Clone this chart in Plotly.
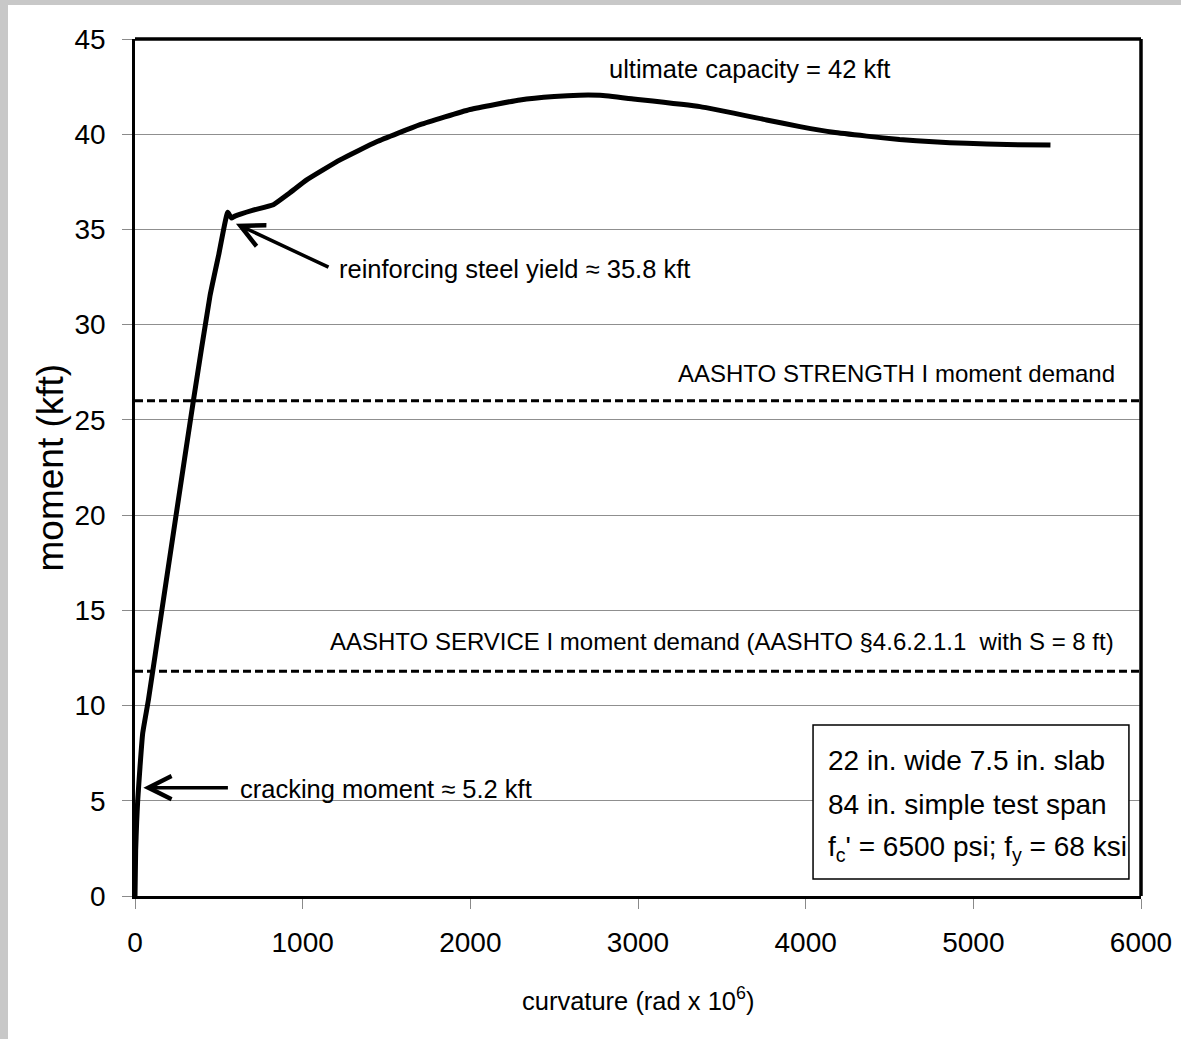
import plotly.graph_objects as go

# ---- data ----
curvature = [0, 4, 10, 16, 30, 46, 80, 160, 245, 348, 447, 500, 553, 575, 596, 700, 825,
             920, 1024, 1223, 1441, 1700, 1998, 2296, 2500, 2650, 2773, 2972, 3370, 3767,
             3966, 4165, 4364, 4560, 4760, 4960, 5200, 5460]
moment = [0, 2.4, 3.9, 5.0, 6.8, 8.55, 10.3, 15.0, 20.0, 26.0, 31.5, 33.7, 35.9, 35.6, 35.7,
          36.0, 36.3, 36.9, 37.6, 38.65, 39.6, 40.5, 41.3, 41.8, 41.98, 42.05, 42.04, 41.85,
          41.45, 40.75, 40.4, 40.1, 39.9, 39.72, 39.6, 39.52, 39.46, 39.43]

demand_labels = ["AASHTO STRENGTH I moment demand",
                 "AASHTO SERVICE I moment demand (AASHTO §4.6.2.1.1  with S = 8 ft)"]
demand_values = [26.0, 11.8]
curv_range = [0, 6000]

x_ticks = [0, 1000, 2000, 3000, 4000, 5000, 6000]
y_ticks = [0, 5, 10, 15, 20, 25, 30, 35, 40, 45]

box_lines = ["22 in. wide 7.5 in. slab",
             "84 in. simple test span",
             "f<sub>c</sub>' = 6500 psi; f<sub>y</sub> = 68 ksi"]

FONT = "Liberation Sans, Arial, sans-serif"

fig = go.Figure()

for v in demand_values:
    fig.add_trace(go.Scatter(x=curv_range, y=[v, v], mode="lines",
                             line=dict(color="black", width=3, dash="8px,4px"),
                             hoverinfo="skip", showlegend=False))

fig.add_trace(go.Scatter(x=curvature, y=moment, mode="lines",
                         line=dict(color="black", width=5, shape="spline", smoothing=0.4),
                         showlegend=False))

W, H = 1181, 1039
PL, PR, PT, PB = 135, 1141, 39, 896      # plot area in page pixels
pw, ph = PR - PL, PB - PT


def px_x(p):
    return (p - PL) / pw


def px_y(p):
    return (PB - p) / ph


shapes = [
    # grey textured margins of the original picture
    dict(type="rect", xref="paper", yref="paper", x0=px_x(0), x1=px_x(8), y0=px_y(H), y1=px_y(0),
         fillcolor="#c8c8c8", line=dict(width=0), layer="below"),
    dict(type="rect", xref="paper", yref="paper", x0=px_x(0), x1=px_x(W), y0=px_y(5), y1=px_y(0),
         fillcolor="#c8c8c8", line=dict(width=0), layer="below"),
    # heavy top/right frame
    dict(type="line", xref="paper", yref="paper", x0=0, x1=1, y0=1, y1=1,
         line=dict(color="black", width=3.5), layer="above"),
    dict(type="line", xref="paper", yref="paper", x0=1, x1=1, y0=0, y1=1,
         line=dict(color="black", width=3.5), layer="above"),
    # info box
    dict(type="rect", xref="x", yref="y", x0=4044, x1=5928, y0=0.89, y1=8.98,
         fillcolor="white", line=dict(color="black", width=1.5), layer="above"),
]

ann = []
TXT = dict(family=FONT, size=25.5, color="black")
TXT_UP = dict(family=FONT, size=24, color="black")
BOX = dict(family=FONT, size=28, color="black")
ann.append(dict(x=2815, y=43.45, xref="x", yref="y", text="ultimate capacity = 42 kft",
                showarrow=False, xanchor="left", yanchor="middle", font=TXT))
ann.append(dict(x=1205, y=32.9, xref="x", yref="y", text="reinforcing steel yield ≈ 35.8 kft",
                showarrow=False, xanchor="left", yanchor="middle", font=TXT))
ann.append(dict(x=614, y=5.6, xref="x", yref="y", text="cracking moment ≈ 5.2 kft",
                showarrow=False, xanchor="left", yanchor="middle", font=TXT))
ann.append(dict(x=5857, y=27.45, xref="x", yref="y", text=demand_labels[0],
                showarrow=False, xanchor="right", yanchor="middle", font=TXT_UP))
ann.append(dict(x=5852, y=13.35, xref="x", yref="y", text=demand_labels[1],
                showarrow=False, xanchor="right", yanchor="middle", font=TXT_UP))
# arrows
ann.append(dict(x=602, y=35.3, ax=1163, ay=32.98, xref="x", yref="y", axref="x", ayref="y",
                text="", showarrow=True, arrowhead=5, arrowsize=1.3, arrowwidth=3.5,
                arrowcolor="black"))
ann.append(dict(x=50, y=5.69, ax=563, ay=5.69, xref="x", yref="y", axref="x", ayref="y",
                text="", showarrow=True, arrowhead=5, arrowsize=1.3, arrowwidth=3.5,
                arrowcolor="black"))
# info box text
for yy, t in zip([7.14, 4.78, 2.47], box_lines):
    ann.append(dict(x=4121, y=yy, xref="x", yref="y", text=t, showarrow=False,
                    xanchor="left", yanchor="middle", font=BOX))
# axis titles
ann.append(dict(x=px_x(50), y=0.5, xref="paper", yref="paper", text="moment (kft)",
                textangle=-90, showarrow=False, xanchor="center", yanchor="middle",
                font=dict(family=FONT, size=37, color="black")))
ann.append(dict(x=0.5, y=px_y(999), xref="paper", yref="paper",
                text="curvature (rad x 10<sup>6</sup>)", showarrow=False,
                xanchor="center", yanchor="middle",
                font=dict(family=FONT, size=25.5, color="black")))

fig.update_layout(
    width=W, height=H,
    margin=dict(l=PL, r=W - PR, t=PT, b=H - PB, autoexpand=False),
    paper_bgcolor="white", plot_bgcolor="white",
    shapes=shapes, annotations=ann,
    xaxis=dict(range=curv_range, tickvals=x_ticks, ticks="outside", ticklen=10,
               tickcolor="#8a8a8a", tickwidth=1.3, showgrid=False, zeroline=False,
               showline=True, linecolor="black", linewidth=2.5,
               tickfont=dict(family=FONT, size=28, color="black"), ticklabelstandoff=10),
    yaxis=dict(range=[0, 45], tickvals=y_ticks, ticks="outside", ticklen=10,
               tickcolor="#8a8a8a", tickwidth=1.3, showgrid=True, gridcolor="#8f8f8f",
               gridwidth=1.3, zeroline=False, showline=True, linecolor="black", linewidth=2.5,
               tickfont=dict(family=FONT, size=28, color="black"), ticklabelstandoff=11),
)

fig.write_html("out.html", config={"displayModeBar": False},
               post_script="document.body.style.margin='0';")
